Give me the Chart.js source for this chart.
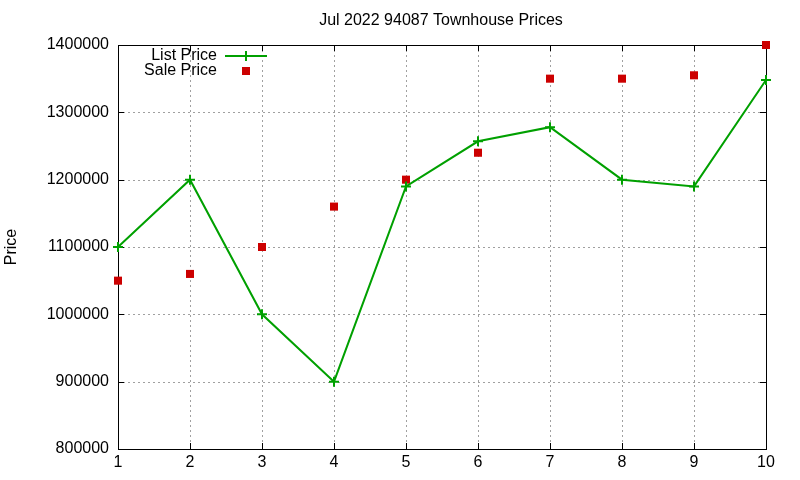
<!DOCTYPE html>
<html><head><meta charset="utf-8">
<script src="https://cdn.jsdelivr.net/npm/chart.js@4/dist/chart.umd.min.js"></script>
<style>html,body{margin:0;padding:0;background:#fff}#c{display:block}</style>
</head><body>
<canvas id="c" width="800" height="480"></canvas>
<script>
const categories = [1,2,3,4,5,6,7,8,9,10];
const listPrice = [1100000,1200000,1000000,900000,1190000,1257000,1278000,1200000,1190000,1348000];
const salePrice = [1050000,1060000,1100000,1160000,1200000,1240000,1350000,1350000,1355000,1400000];
const yTicks = [800000,900000,1000000,1100000,1200000,1300000,1400000];
const titleText = 'Jul 2022 94087 Townhouse Prices';
const yLabel = 'Price';
const FONT = '"Liberation Sans", Arial, sans-serif';

const decor = {
  id:'decor',
  beforeDatasetsDraw(chart){
    const {ctx, chartArea:a} = chart;
    const xs=chart.scales.x, ys=chart.scales.y;
    ctx.save();
    // dotted grid
    ctx.strokeStyle='#a0a0a0'; ctx.lineWidth=1; ctx.setLineDash([2,3]);
    ctx.beginPath();
    categories.forEach(v=>{const px=Math.round(xs.getPixelForValue(v))+0.5;
      ctx.moveTo(px,a.top); ctx.lineTo(px,a.bottom);});
    yTicks.forEach(v=>{const py=Math.round(ys.getPixelForValue(v))+0.5;
      ctx.moveTo(a.left,py); ctx.lineTo(a.right,py);});
    ctx.stroke();
    ctx.setLineDash([]);
    // inward tick marks on all four sides
    ctx.strokeStyle='#000';
    ctx.beginPath();
    categories.forEach(v=>{const px=Math.round(xs.getPixelForValue(v))+0.5;
      ctx.moveTo(px,a.bottom); ctx.lineTo(px,a.bottom-6);
      ctx.moveTo(px,a.top); ctx.lineTo(px,a.top+6);});
    yTicks.forEach(v=>{const py=Math.round(ys.getPixelForValue(v))+0.5;
      ctx.moveTo(a.left,py); ctx.lineTo(a.left+6,py);
      ctx.moveTo(a.right,py); ctx.lineTo(a.right-6,py);});
    ctx.stroke();
    ctx.strokeRect(Math.round(a.left)+0.5, Math.round(a.top)+0.5, Math.round(a.right-a.left), Math.round(a.bottom-a.top));
    ctx.restore();
  },
  afterDraw(chart){
    const {ctx} = chart;
    ctx.save();
    ctx.fillStyle='#000';
    ctx.font='16px '+FONT;
    ctx.textAlign='center'; ctx.textBaseline='middle';
    ctx.fillText(titleText, 441, 21);
    ctx.translate(12, 247); ctx.rotate(-Math.PI/2);
    ctx.fillText(yLabel, 0, 0);
    ctx.restore();
    // legend
    ctx.save();
    ctx.font='16px '+FONT; ctx.fillStyle='#000';
    ctx.textAlign='right'; ctx.textBaseline='middle';
    ctx.fillText(chart.data.datasets[0].label, 217, 56);
    ctx.fillText(chart.data.datasets[1].label, 217, 71);
    ctx.strokeStyle='#00a000'; ctx.lineWidth=2;
    ctx.beginPath(); ctx.moveTo(225,56); ctx.lineTo(267,56);
    ctx.moveTo(246,51); ctx.lineTo(246,61); ctx.stroke();
    ctx.fillStyle='#cc0000'; ctx.fillRect(242,67,8,8);
    ctx.restore();
  }
};

new Chart(document.getElementById('c'), {
  type:'scatter',
  data:{datasets:[
    {label:'List Price', data:categories.map((x,i)=>({x, y:listPrice[i]})), showLine:true, clip:false,
     borderColor:'#00a000', backgroundColor:'#00a000', borderWidth:2,
     pointStyle:'cross', pointRadius:5, pointBorderWidth:2, pointHoverRadius:5, tension:0},
    {label:'Sale Price', data:categories.map((x,i)=>({x, y:salePrice[i]})), showLine:false, clip:false,
     borderColor:'#cc0000', backgroundColor:'#cc0000', pointStyle:'rect', pointRadius:5.7,
     pointBorderWidth:0, pointHoverRadius:5.7}
  ]},
  options:{
    responsive:false, animation:false, devicePixelRatio:1,
    layout:{padding:{top:45, right:34, left:0, bottom:0}},
    plugins:{legend:{display:false}, title:{display:false}, tooltip:{enabled:false}},
    scales:{
      x:{type:'linear', min:1, max:10,
        afterBuildTicks(s){s.ticks=categories.map(v=>({value:v}));},
        afterFit(s){s.height=31;},
        grid:{display:false, drawTicks:false, tickLength:0},
        border:{display:false},
        ticks:{color:'#000', font:{family:FONT,size:16}, padding:4}},
      y:{type:'linear', min:800000, max:1400000,
        afterBuildTicks(s){s.ticks=yTicks.map(v=>({value:v}));},
        afterFit(s){s.width=118;},
        grid:{display:false, drawTicks:false, tickLength:0},
        border:{display:false},
        ticks:{color:'#000', font:{family:FONT,size:16}, padding:9, callback:v=>String(v)}}
    }
  },
  plugins:[decor]
});
</script>
</body></html>
